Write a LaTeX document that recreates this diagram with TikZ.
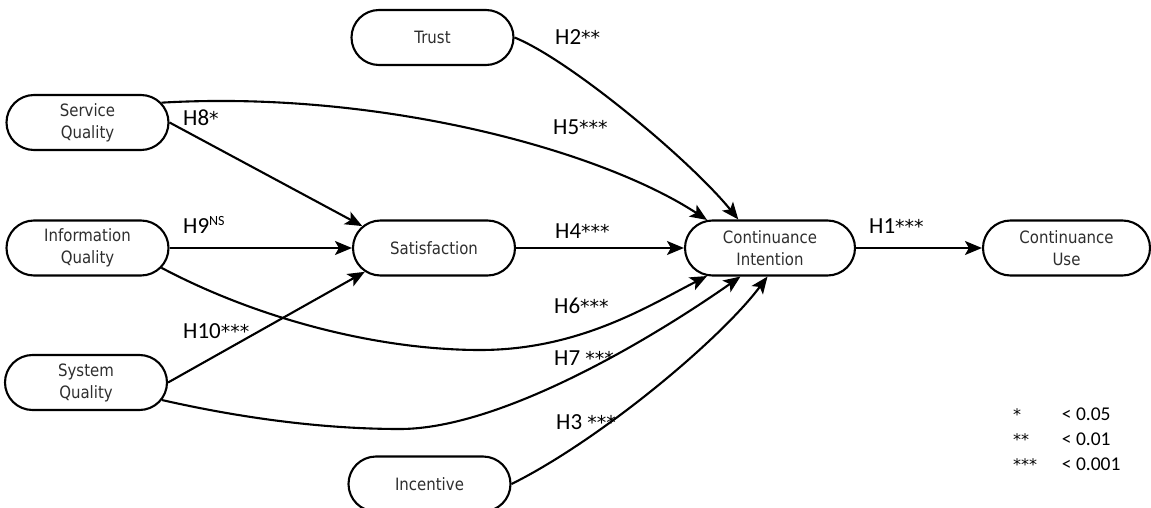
\documentclass[tikz,border=0pt]{standalone}
\usepackage{fontspec}
\setmainfont{Carlito}
\newfontfamily\nodefont{DejaVu Sans}[FakeStretch=0.88]
\newfontfamily\astfont{DejaVu Sans}
\newcommand{\stars}[1]{{\astfont\fontsize{19}{19}\selectfont #1}}
\newcommand{\legstars}[1]{{\astfont\fontsize{16}{16}\selectfont #1}}
\usetikzlibrary{shapes.misc,arrows.meta}
\begin{document}
\begin{tikzpicture}[x=1pt,y=-1pt,
 box/.style={rounded rectangle, draw, line width=2.1pt, minimum width=162pt, minimum height=55pt, inner sep=0pt, align=center, font=\nodefont\fontsize{17}{22}\selectfont, text=black!82},
 link/.style={line width=2.1pt, -{Stealth[length=17pt,width=14pt,inset=4pt]}},
 lab/.style={anchor=base west, inner sep=0pt, font=\fontsize{23}{27}\selectfont},
 leg/.style={anchor=base west, inner sep=0pt, font=\fontsize{19.5}{22}\selectfont},
]
\useasboundingbox (0,0) rectangle (1151,508);

\node[box] (trust) at (432.5,37.5) {Trust};
\node[box] (sq) at (87.5,122.5) {Service\\Quality};
\node[box] (iq) at (87.5,248) {Information\\Quality};
\node[box] (sys) at (86,382.5) {System\\Quality};
\node[box] (sat) at (434,248) {Satisfaction};
\node[box, minimum width=170pt] (ci) at (770,248) {Continuance\\Intention};
\node[box, minimum width=167pt] (cu) at (1066.5,248) {Continuance\\Use};
\node[box] (inc) at (429.5,484) {Incentive};

\draw[link] (trust.east) .. controls (570,60) and (690,160) .. (ci.138);
\draw[link] (sq.15) .. controls (380,90) and (600,150) .. (ci.156);
\draw[link] (sq.east) -- (sat.163);
\draw[link] (iq.east) -- (sat.west);
\draw[link] (sys.east) -- (sat.199);
\draw[link] (sat.east) -- (ci.west);
\draw[link] (ci.east) -- (cu.west);
\draw[link] (iq.-15) .. controls (260,320) and (380,350) .. (480,350) .. controls (580,350) and (650,305) .. (ci.204);
\draw[link] (sys.-13) .. controls (250,420) and (330,429) .. (400,429) .. controls (500,429) and (650,340) .. (ci.224);
\draw[link] (inc.east) .. controls (600,440) and (720,340) .. (ci.265);

\node[lab] (l2) at (555,45) {H2\stars{**}};
\node[lab] (l5) at (553,135) {H5\stars{***}};
\node[lab] (l4) at (555,238) {H4\stars{***}};
\node[lab] (l8) at (183,126) {H8\stars{*}};
\node[lab] (l9) at (183,233) {H9\raisebox{7.3pt}{\fontsize{14}{14}\selectfont NS}};
\node[lab] (l10) at (183,338) {H10\stars{***}};
\node[lab] (l6) at (554,313) {H6\stars{***}};
\node[lab] (l7) at (554,365) {H7 \stars{***}};
\node[lab] (l3) at (556,429) {H3 \stars{***}};
\node[lab] (l1) at (869,233) {H1\stars{***}};

\node[leg] (s1) at (1013,420) {\legstars{*}};
\node[leg] (s2) at (1013,445) {\legstars{**}};
\node[leg] (s3) at (1013,470) {\legstars{***}};
\node[leg] (p1) at (1061.7,420) {< 0.05};
\node[leg] (p2) at (1061.7,445) {< 0.01};
\node[leg] (p3) at (1061.7,470) {< 0.001};
\end{tikzpicture}
\end{document}
